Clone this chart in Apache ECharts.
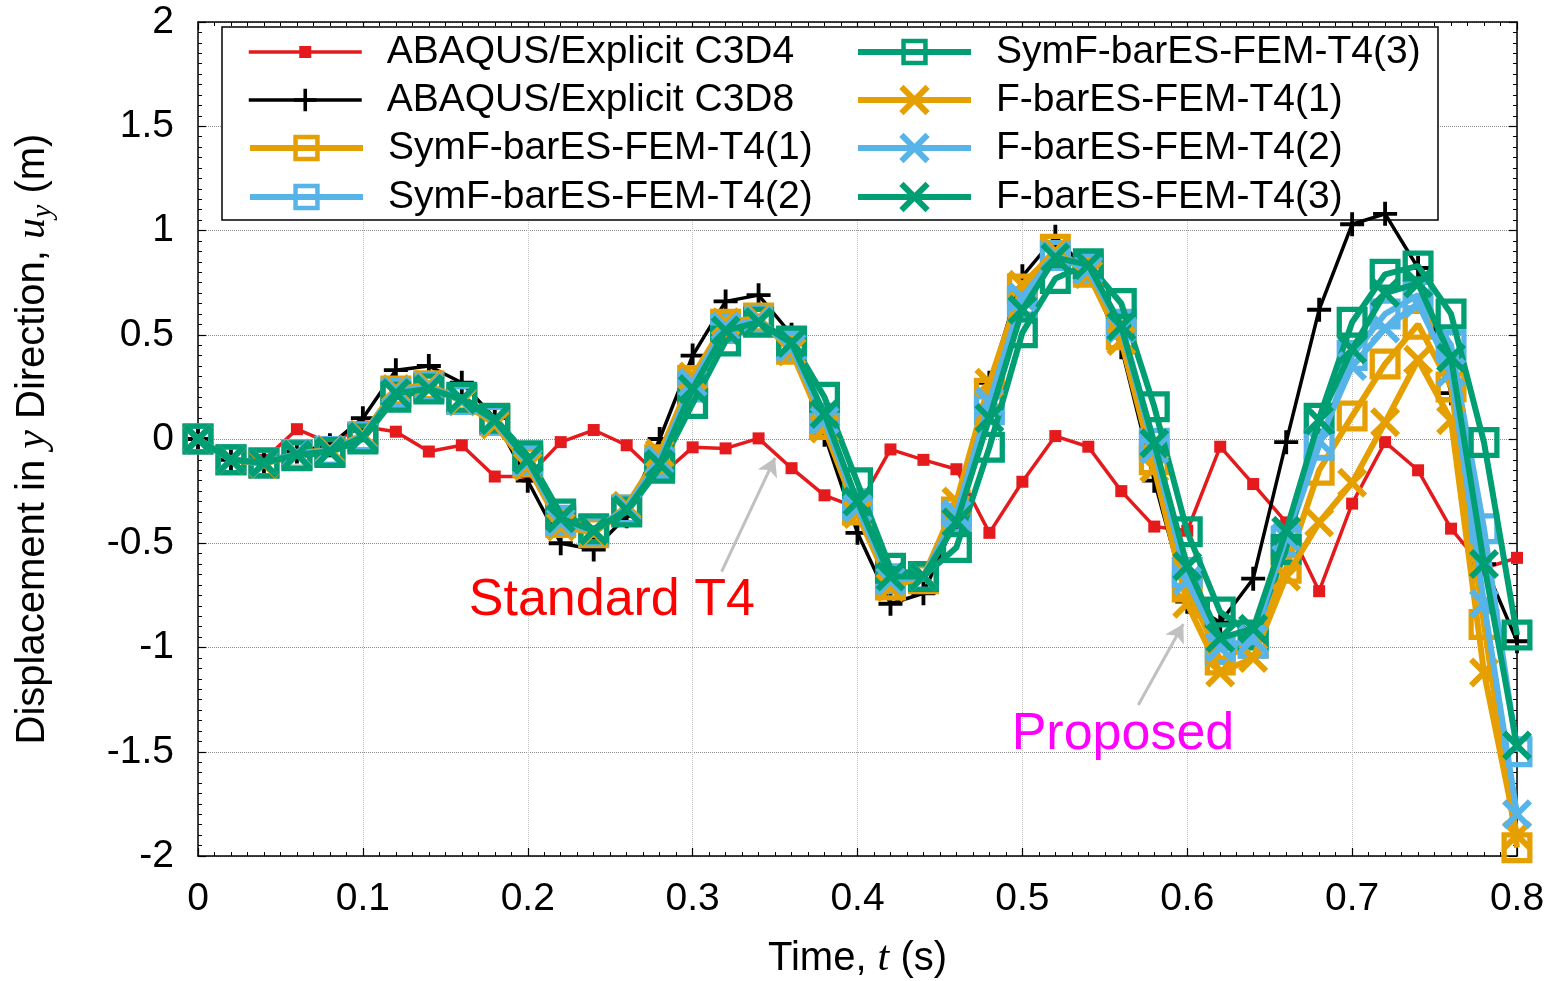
<!DOCTYPE html>
<html><head><meta charset="utf-8">
<script src="https://cdn.jsdelivr.net/npm/echarts@6/dist/echarts.min.js"></script>
<style>html,body{margin:0;padding:0;background:#fff;}#c{width:1558px;height:981px;}</style>
</head><body><div id="c"></div>
<script>
// ---------- data ----------
const times = [0,0.02,0.04,0.06,0.08,0.1,0.12,0.14,0.16,0.18,0.2,0.22,0.24,0.26,0.28,0.3,0.32,0.34,0.36,0.38,0.4,0.42,0.44,0.46,0.48,0.5,0.52,0.54,0.56,0.58,0.6,0.62,0.64,0.66,0.68,0.7,0.72,0.74,0.76,0.78,0.8];
const seriesNames = ['ABAQUS/Explicit C3D4','ABAQUS/Explicit C3D8','SymF-barES-FEM-T4(1)','SymF-barES-FEM-T4(2)','SymF-barES-FEM-T4(3)','F-barES-FEM-T4(1)','F-barES-FEM-T4(2)','F-barES-FEM-T4(3)'];
const c3d4 = [0,-0.1,-0.1,0.047,-0.02,0.06,0.035,-0.06,-0.03,-0.18,-0.18,-0.015,0.043,-0.03,-0.18,-0.04,-0.045,0.003,-0.14,-0.27,-0.33,-0.05,-0.1,-0.145,-0.45,-0.205,0.014,-0.037,-0.25,-0.42,-0.44,-0.037,-0.216,-0.4,-0.73,-0.31,-0.015,-0.15,-0.43,-0.62,-0.57];
const c3d8 = [0,-0.1,-0.11,-0.06,-0.03,0.1,0.33,0.35,0.27,0.1,-0.2,-0.5,-0.53,-0.37,0.0,0.4,0.66,0.69,0.5,0.02,-0.45,-0.79,-0.74,-0.38,0.27,0.78,0.97,0.8,0.44,-0.2,-0.78,-0.88,-0.67,-0.015,0.62,1.03,1.08,0.82,0.22,-0.6,-0.97];
const symF1 = [0,-0.1,-0.115,-0.075,-0.06,0.01,0.23,0.255,0.19,0.09,-0.11,-0.4,-0.45,-0.34,-0.1,0.28,0.55,0.58,0.43,0.07,-0.34,-0.7,-0.67,-0.35,0.22,0.72,0.91,0.8,0.5,-0.1,-0.71,-1.06,-0.98,-0.62,-0.15,0.11,0.36,0.55,0.25,-0.89,-1.96];
const symF2 = [0,-0.1,-0.115,-0.075,-0.06,0.01,0.22,0.25,0.19,0.09,-0.1,-0.39,-0.44,-0.34,-0.12,0.25,0.53,0.57,0.45,0.1,-0.31,-0.67,-0.66,-0.38,0.14,0.66,0.88,0.82,0.55,-0.02,-0.64,-1.01,-0.98,-0.49,-0.03,0.4,0.6,0.69,0.45,-0.43,-1.5];
const symF3 = [0,-0.1,-0.115,-0.08,-0.065,0.0,0.2,0.24,0.2,0.1,-0.08,-0.36,-0.43,-0.35,-0.14,0.17,0.47,0.56,0.47,0.2,-0.21,-0.62,-0.66,-0.52,-0.04,0.51,0.77,0.84,0.65,0.155,-0.445,-0.83,-0.94,-0.53,0.1,0.56,0.79,0.83,0.6,-0.017,-0.94];
const fbar1 = [0,-0.1,-0.12,-0.07,-0.05,0.02,0.24,0.26,0.18,0.07,-0.13,-0.42,-0.45,-0.32,-0.07,0.3,0.56,0.58,0.42,0.05,-0.36,-0.71,-0.66,-0.3,0.27,0.74,0.9,0.79,0.47,-0.14,-0.79,-1.12,-1.05,-0.66,-0.4,-0.21,0.08,0.38,0.09,-1.12,-1.9];
const fbar2 = [0,-0.1,-0.115,-0.07,-0.055,0.015,0.23,0.25,0.185,0.085,-0.11,-0.4,-0.44,-0.33,-0.1,0.27,0.54,0.57,0.44,0.09,-0.33,-0.68,-0.66,-0.36,0.18,0.68,0.88,0.81,0.53,-0.05,-0.68,-1.0,-0.96,-0.47,-0.01,0.35,0.53,0.65,0.32,-0.79,-1.8];
const fbar3 = [0,-0.1,-0.115,-0.075,-0.06,0.01,0.22,0.24,0.19,0.09,-0.1,-0.38,-0.44,-0.34,-0.12,0.24,0.52,0.56,0.46,0.12,-0.3,-0.66,-0.66,-0.4,0.1,0.62,0.87,0.835,0.54,-0.02,-0.61,-0.955,-0.91,-0.44,0.09,0.43,0.7,0.746,0.39,-0.6,-1.47];
const xTicks = [0,0.1,0.2,0.3,0.4,0.5,0.6,0.7,0.8];
const yTicks = [-2,-1.5,-1,-0.5,0,0.5,1,1.5,2];
const annoTexts = ['Standard T4','Proposed'];
const annoPos = [[0.251,-0.775],[0.561,-1.42]];
const arrowLines = [[[0.3176,-0.636],[0.35,-0.09]],[[0.5703,-1.276],[0.5976,-0.887]]];

// ---------- styles ----------
const values = [c3d4,c3d8,symF1,symF2,symF3,fbar1,fbar2,fbar3];
const colors = ['#e41a1c','#000000','#E69F00','#56B4E9','#009E73','#E69F00','#56B4E9','#009E73'];
const SQ = 'path://M0,0H10V10H0Z M1.7,1.7V8.3H8.3V1.7Z';
const XS = 'path://M0,1.4L1.4,0L10,8.6L8.6,10Z M8.6,0L10,1.4L1.4,10L0,8.6Z';
const PL = 'path://M4.2,0H5.8V4.2H10V5.8H5.8V10H4.2V5.8H0V4.2H4.2Z';
const symbols = ['rect',PL,SQ,SQ,SQ,XS,XS,XS];
const symSizes = [12,24,31,31,31,30,30,30];
const lineWidths = [3.5,3.5,6,6,6,6,6,6];
const legendH = [15,28,33,33,33,38,38,38];
const legendCols = [247,855];
const legendRows = [52,100,148,197];
const FONT = 'Liberation Sans';

const chart = echarts.init(document.getElementById('c'), null, {renderer:'canvas'});

const series = seriesNames.map((n,i)=>({
  name:n, type:'line', z: 2+i,
  data: times.map((t,k)=>[t, values[i][k]]),
  symbol: symbols[i], symbolSize: symSizes[i], showAllSymbol:true,
  lineStyle:{color:colors[i], width:lineWidths[i]},
  itemStyle:{color:colors[i], borderWidth:0},
  emphasis:{disabled:true}, animation:false
}));
series.push({
  name:'arrows', type:'line', data:[], z:15, animation:false, silent:true,
  markLine:{
    silent:true, animation:false,
    symbol:['none','arrow'], symbolSize:[16,18],
    lineStyle:{color:'#c0c0c0', width:3, type:'solid'},
    label:{show:false},
    data: arrowLines.map(a=>[{coord:a[0]},{coord:a[1]}])
  }
});

const legends = seriesNames.map((n,i)=>({
  data:[n], selectedMode:false, orient:'horizontal', padding:0, z:20,
  left: legendCols[Math.floor(i/4)], top: legendRows[i%4]-22,
  itemWidth:113, itemHeight:legendH[i],
  lineStyle:{width:lineWidths[i]},
  textStyle:{fontFamily:FONT, fontSize:39, color:'#000', lineHeight:44, padding:[0,0,0,20]}
}));

const axisCommonX = {
  type:'value', min:0, max:0.8, interval:0.1,
  axisLine:{show:true, onZero:false, lineStyle:{color:'#000', width:1.5}},
  axisTick:{show:true, inside:true, length:8, lineStyle:{color:'#000', width:1.2}},
  minorTick:{show:true, splitNumber:10, length:4, lineStyle:{color:'#000', width:1}},
};
const axisCommonY = {
  type:'value', min:-2, max:2, interval:0.5,
  axisLine:{show:true, onZero:false, lineStyle:{color:'#000', width:1.5}},
  axisTick:{show:true, inside:true, length:8, lineStyle:{color:'#000', width:1.2}},
  minorTick:{show:true, splitNumber:10, length:4, lineStyle:{color:'#000', width:1}},
};

chart.setOption({
  backgroundColor:'#fff',
  animation:false,
  grid:{left:198, right:41, top:22, bottom:125, containLabel:false, outerBoundsMode:'none'},
  legend: legends,
  xAxis:[
    Object.assign({}, axisCommonX, {
      position:'bottom',
      name:'Time, {it|t} (s)', nameLocation:'middle', nameGap:82,
      nameTextStyle:{fontFamily:FONT, fontSize:40, color:'#000',
        rich:{it:{fontFamily:'Liberation Serif', fontStyle:'italic', fontSize:42, color:'#000'}}},
      axisLabel:{show:true, margin:24, fontFamily:FONT, fontSize:39, color:'#000'},
      splitLine:{show:true, lineStyle:{color:'#c0c0c0', type:'dotted', width:1}}
    }),
    Object.assign({}, axisCommonX, {
      position:'top', axisLabel:{show:false}, splitLine:{show:false}
    })
  ],
  yAxis:[
    Object.assign({}, axisCommonY, {
      position:'left',
      name:'Displacement in {it|y} Direction, {it|u}{sub|y} (m)', nameLocation:'middle', nameGap:140,
      nameTextStyle:{fontFamily:FONT, fontSize:40, color:'#000',
        rich:{
          it:{fontFamily:'Liberation Serif', fontStyle:'italic', fontSize:42, color:'#000'},
          sub:{fontFamily:'Liberation Serif', fontStyle:'italic', fontSize:30, color:'#000', padding:[20,0,0,0]}
        }},
      axisLabel:{show:true, margin:24, fontFamily:FONT, fontSize:39, color:'#000'},
      splitLine:{show:true, lineStyle:{color:'#8c8c8c', type:'dotted', width:1}}
    }),
    Object.assign({}, axisCommonY, {
      position:'right', axisLabel:{show:false}, splitLine:{show:false}
    })
  ],
  series: series
});

// legend frame and annotations
const p0 = [222, 27], p1 = [1438, 220];
const graphics = [{
  type:'rect', z:1, silent:true,
  shape:{x:p0[0], y:p0[1], width:p1[0]-p0[0], height:p1[1]-p0[1]},
  style:{fill:'#fff', stroke:'#000', lineWidth:1.5}
}];
const annoColors = ['#ff0000','#ff00ff'];
annoTexts.forEach((t,i)=>{
  const px = chart.convertToPixel({gridIndex:0}, annoPos[i]);
  graphics.push({
    type:'text', z:20, silent:true, x:px[0], y:px[1],
    style:{text:t, fill:annoColors[i], font:'52px "Liberation Sans"', align:'center', verticalAlign:'middle'}
  });
});
chart.setOption({graphic:graphics});
</script>
</body></html>
